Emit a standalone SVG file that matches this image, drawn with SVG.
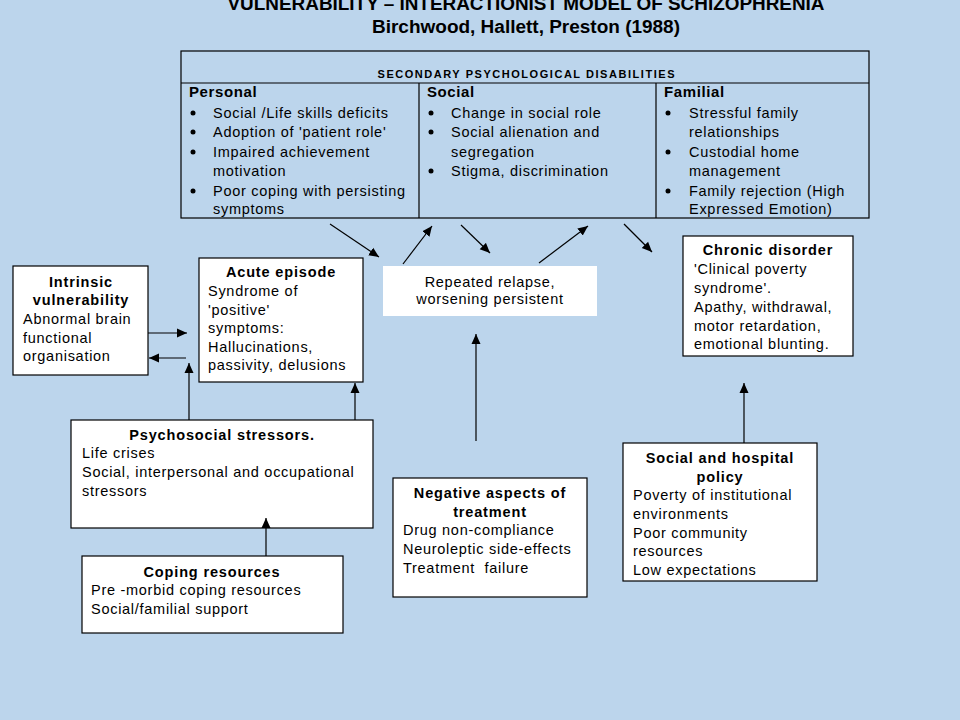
<svg xmlns="http://www.w3.org/2000/svg" width="960" height="720" viewBox="0 0 960 720">
<defs>
<style>
text{font-family:"Liberation Sans",Arial,sans-serif;font-size:14.5px;fill:#000;letter-spacing:0.72px}
.t{font-weight:bold;font-size:18px;letter-spacing:0}
.h{font-weight:bold;text-anchor:middle;letter-spacing:0.85px}
.ch{font-weight:bold;font-size:15px;letter-spacing:0.6px}
.box{fill:#fff;stroke:#000;stroke-width:1.2}
.tbl{fill:none;stroke:#000;stroke-width:1.2}
.c line{stroke:#000;stroke-width:1.2}
</style>
<marker id="a" viewBox="0 0 10 10" refX="10" refY="5" markerWidth="10" markerHeight="10" markerUnits="userSpaceOnUse" orient="auto">
<path d="M0,0.5 L10,5 L0,9.5 z" fill="#000"/>
</marker>
</defs>
<rect width="960" height="720" fill="#BCD5EC"/>
<g id="title">
<text class="t" x="526" y="10" text-anchor="middle" textLength="597" lengthAdjust="spacingAndGlyphs">VULNERABILITY – INTERACTIONIST MODEL OF SCHIZOPHRENIA</text>
<text class="t" x="526" y="33" text-anchor="middle" textLength="308" lengthAdjust="spacingAndGlyphs">Birchwood, Hallett, Preston (1988)</text>
</g>
<g id="secondary">
<rect class="tbl" x="181" y="51" width="688" height="167"/>
<line class="tbl" x1="181" y1="83" x2="869" y2="83"/>
<line class="tbl" x1="419" y1="83" x2="419" y2="218"/>
<line class="tbl" x1="656" y1="83" x2="656" y2="218"/>
<text x="526" y="78" text-anchor="middle" font-weight="bold" style="font-size:11px;letter-spacing:0" textLength="297" lengthAdjust="spacing">SECONDARY PSYCHOLOGICAL DISABILITIES</text>
<text class="ch" x="189" y="97">Personal</text>
<text class="ch" x="427" y="97">Social</text>
<text class="ch" x="664" y="97">Familial</text>
<g>
<circle cx="193" cy="113" r="2.5"/><text x="213" y="118">Social /Life skills deficits</text>
<circle cx="193" cy="132" r="2.5"/><text x="213" y="137">Adoption of 'patient role'</text>
<circle cx="193" cy="152" r="2.5"/><text x="213" y="157">Impaired achievement</text>
<text x="213" y="176">motivation</text>
<circle cx="193" cy="191" r="2.5"/><text x="213" y="196">Poor coping with persisting</text>
<text x="213" y="214">symptoms</text>
</g>
<g>
<circle cx="431" cy="113" r="2.5"/><text x="451" y="118">Change in social role</text>
<circle cx="431" cy="132" r="2.5"/><text x="451" y="137">Social alienation and</text>
<text x="451" y="157">segregation</text>
<circle cx="431" cy="171" r="2.5"/><text x="451" y="176">Stigma, discrimination</text>
</g>
<g>
<circle cx="668" cy="113" r="2.5"/><text x="689" y="118">Stressful family</text>
<text x="689" y="137">relationships</text>
<circle cx="668" cy="152" r="2.5"/><text x="689" y="157">Custodial home</text>
<text x="689" y="176">management</text>
<circle cx="668" cy="191" r="2.5"/><text x="689" y="196">Family rejection (High</text>
<text x="689" y="214">Expressed Emotion)</text>
</g>
</g>
<g id="intrinsic">
<rect class="box" x="13" y="266" width="135" height="109"/>
<text class="h" x="81" y="287">Intrinsic</text>
<text class="h" x="81" y="305">vulnerability</text>
<text x="23" y="324">Abnormal brain</text>
<text x="23" y="343">functional</text>
<text x="23" y="361">organisation</text>
</g>
<g id="acute">
<rect class="box" x="199" y="258" width="164" height="124"/>
<text class="h" x="281" y="277">Acute episode</text>
<text x="208" y="296">Syndrome of</text>
<text x="208" y="315">'positive'</text>
<text x="208" y="333">symptoms:</text>
<text x="208" y="352">Hallucinations,</text>
<text x="208" y="370">passivity, delusions</text>
</g>
<g id="relapse">
<rect x="383" y="266" width="214" height="50" fill="#fff"/>
<text x="490" y="287" text-anchor="middle">Repeated relapse,</text>
<text x="490" y="304" text-anchor="middle">worsening persistent</text>
</g>
<g id="chronic">
<rect class="box" x="683" y="236" width="170" height="120"/>
<text class="h" x="768" y="255">Chronic disorder</text>
<text x="694" y="274">'Clinical poverty</text>
<text x="694" y="293">syndrome'.</text>
<text x="694" y="312">Apathy, withdrawal,</text>
<text x="694" y="331">motor retardation,</text>
<text x="694" y="349">emotional blunting.</text>
</g>
<g id="stressors">
<rect class="box" x="71" y="420" width="302" height="108"/>
<text class="h" x="222" y="440">Psychosocial stressors.</text>
<text x="82" y="458">Life crises</text>
<text x="82" y="477">Social, interpersonal and occupational</text>
<text x="82" y="496">stressors</text>
</g>
<g id="coping">
<rect class="box" x="82" y="556" width="261" height="77"/>
<text class="h" x="212" y="577">Coping resources</text>
<text x="91" y="595">Pre -morbid coping resources</text>
<text x="91" y="614">Social/familial support</text>
</g>
<g id="treatment">
<rect class="box" x="393" y="478" width="194" height="119"/>
<text class="h" x="490" y="498">Negative aspects of</text>
<text class="h" x="490" y="517">treatment</text>
<text x="403" y="535">Drug non-compliance</text>
<text x="403" y="554">Neuroleptic side-effects</text>
<text x="403" y="573">Treatment&#160; failure</text>
</g>
<g id="policy">
<rect class="box" x="623" y="443" width="194" height="138"/>
<text class="h" x="720" y="463">Social and hospital</text>
<text class="h" x="720" y="482">policy</text>
<text x="633" y="500">Poverty of institutional</text>
<text x="633" y="519">environments</text>
<text x="633" y="538">Poor community</text>
<text x="633" y="556">resources</text>
<text x="633" y="575">Low expectations</text>
</g>
<g id="connectors" class="c">
<line x1="148" y1="333" x2="187" y2="333" marker-end="url(#a)"/>
<line x1="186" y1="358" x2="149" y2="358" marker-end="url(#a)"/>
<line x1="189" y1="420" x2="189" y2="363" marker-end="url(#a)"/>
<line x1="355" y1="420" x2="355" y2="383" marker-end="url(#a)"/>
<line x1="330" y1="224" x2="379" y2="257" marker-end="url(#a)"/>
<line x1="403" y1="264" x2="432" y2="226" marker-end="url(#a)"/>
<line x1="461" y1="225" x2="490" y2="253" marker-end="url(#a)"/>
<line x1="539" y1="263" x2="588" y2="226" marker-end="url(#a)"/>
<line x1="624" y1="224" x2="652" y2="252" marker-end="url(#a)"/>
<line x1="476" y1="441" x2="476" y2="334" marker-end="url(#a)"/>
<line x1="744" y1="443" x2="744" y2="383" marker-end="url(#a)"/>
<line x1="266" y1="556" x2="266" y2="518" marker-end="url(#a)"/>
</g>
</svg>
